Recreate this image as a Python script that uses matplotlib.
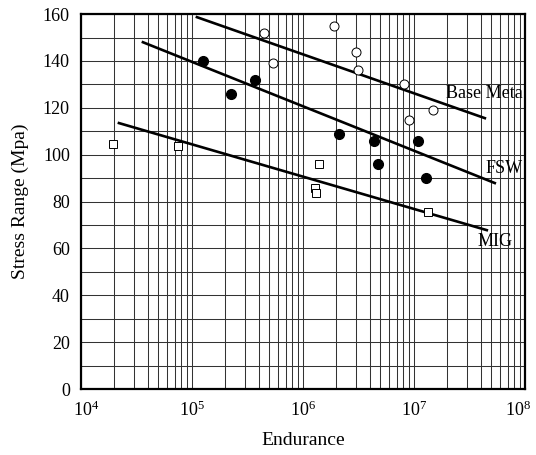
import matplotlib
matplotlib.use("Agg")
import matplotlib.pyplot as plt
import matplotlib.ticker as ticker
import matplotlib.transforms as mtransforms

plt.rcParams["font.family"] = ["Liberation Serif", "DejaVu Serif"]
plt.rcParams["mathtext.fontset"] = "stix"

# data
base_n = [4.46e5, 5.37e5, 1.9e6, 3.0e6, 3.13e6, 8.1e6, 9.0e6, 1.48e7]
base_s = [152, 139, 155, 144, 136, 130, 115, 119]

fsw_n = [1.26e5, 2.24e5, 3.7e5, 2.11e6, 4.36e6, 4.74e6, 1.09e7, 1.28e7]
fsw_s = [140, 126, 132, 109, 106, 96, 106, 90]

mig_n = [1.94e4, 7.48e4, 1.39e6, 1.28e6, 1.31e6, 1.34e7]
mig_s = [104.5, 103.7, 96, 86, 83.6, 75.5]

# fitted S-N lines (end points)
base_fit_n = [1.11e5, 4.37e7]
base_fit_s = [158.7, 115.6]
fsw_fit_n = [3.62e4, 5.37e7]
fsw_fit_s = [148.0, 87.9]
mig_fit_n = [2.2e4, 4.55e7]
mig_fit_s = [113.5, 67.8]

fig = plt.figure(figsize=(5.36, 4.55), dpi=100)
ax = fig.add_axes([0.151, 0.145, 0.828, 0.824])

ax.set_xscale("log")
ax.set_xlim(1e4, 1e8)
ax.set_ylim(0, 160)
ax.yaxis.set_major_locator(ticker.MultipleLocator(20))
ax.yaxis.set_minor_locator(ticker.MultipleLocator(10))
ax.xaxis.set_minor_locator(ticker.LogLocator(base=10, subs=range(2, 10)))
ax.xaxis.set_minor_formatter(ticker.NullFormatter())

ax.grid(True, which="both", color="0.2", lw=0.75)
ax.set_axisbelow(True)
ax.tick_params(which="both", length=0, labelsize=13, pad=8)
for sp in ax.spines.values():
    sp.set_linewidth(1.6)

ax.plot(base_fit_n, base_fit_s, color="black", lw=1.9)
ax.plot(fsw_fit_n, fsw_fit_s, color="black", lw=1.9)
ax.plot(mig_fit_n, mig_fit_s, color="black", lw=1.9)

ax.plot(base_n, base_s, "o", ms=6.5, mfc="white", mec="black", mew=0.7, ls="none")
ax.plot(fsw_n, fsw_s, "o", ms=7, mfc="black", mec="black", ls="none")
ax.plot(mig_n, mig_s, "s", ms=6, mfc="white", mec="black", mew=0.7, ls="none")

ax.text(9.5e7, 126, "Base Meta", ha="right", va="center", fontsize=13)
ax.text(9.5e7, 94, "FSW", ha="right", va="center", fontsize=13)
ax.text(7.8e7, 63, "MIG", ha="right", va="center", fontsize=13)

ax.set_xlabel("Endurance", fontsize=14, labelpad=9)
ax.set_ylabel("Stress Range (Mpa)", fontsize=14, labelpad=10)

# nudge the end labels inwards like the scan
fig.canvas.draw()
labels = ax.get_xticklabels()
shift_l = mtransforms.ScaledTranslation(5 / 100, 0, fig.dpi_scale_trans)
shift_r = mtransforms.ScaledTranslation(-7 / 100, 0, fig.dpi_scale_trans)
for lab in labels:
    if lab.get_position()[0] <= 1e4 * 1.01:
        lab.set_transform(lab.get_transform() + shift_l)
    elif lab.get_position()[0] >= 1e8 * 0.99:
        lab.set_transform(lab.get_transform() + shift_r)

fig.savefig("out.png", dpi=100)
